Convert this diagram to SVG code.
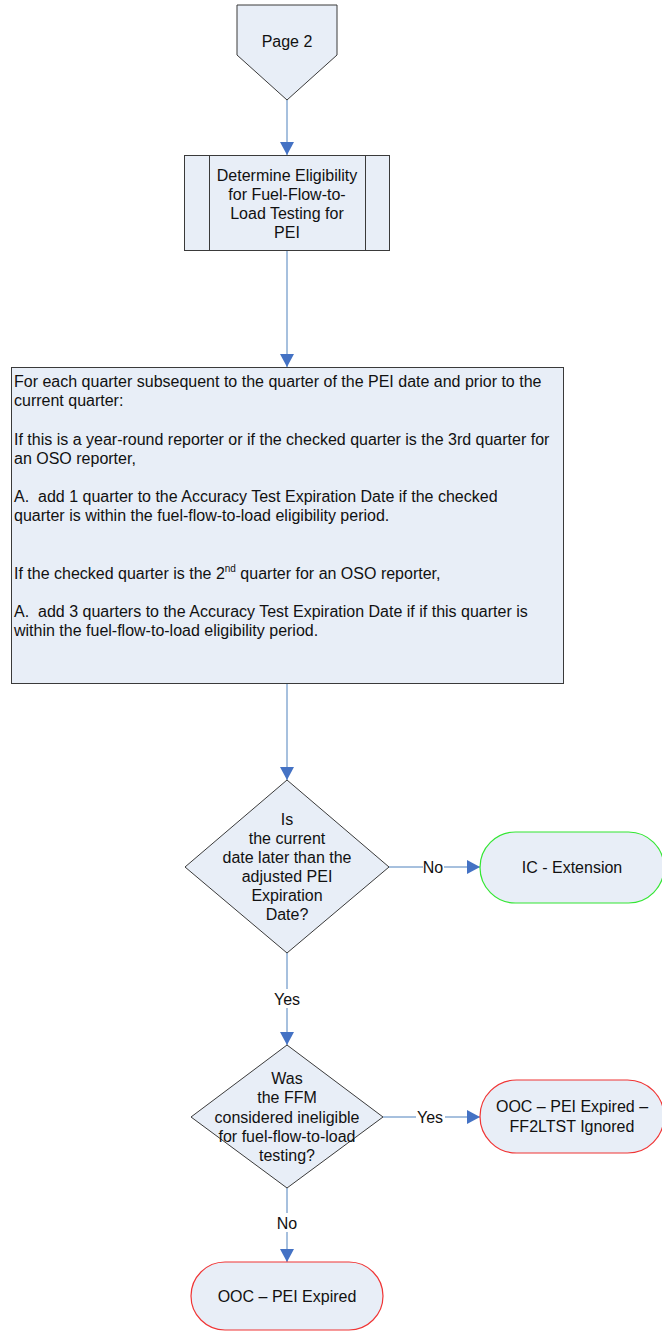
<svg xmlns="http://www.w3.org/2000/svg" width="662" height="1332" viewBox="0 0 662 1332">
<style>
  .shape { fill: #E8EEF7; stroke: #3A3A3A; stroke-width: 1; }
  .term-green { fill: #E8EEF7; stroke: #33E633; stroke-width: 1.2; }
  .term-red { fill: #E8EEF7; stroke: #F03535; stroke-width: 1.2; }
  .t { font-family: "Liberation Sans", Arial, sans-serif; font-size: 16px; fill: #111; }
  .c { text-anchor: middle; }
  .conn { stroke: #4F81BD; stroke-width: 1; fill: none; }
  .lblbg { fill: #FFFFFF; }
</style>
<defs>
  <marker id="arrow" markerUnits="userSpaceOnUse" markerWidth="14" markerHeight="14" viewBox="0 0 13 14" refX="13" refY="7" orient="auto">
    <path d="M0,0 L13,7 L0,14 z" fill="#4472C4"/>
  </marker>
</defs>

<g id="connectors">
  <line class="conn" x1="287" y1="100" x2="287" y2="155" marker-end="url(#arrow)"/>
  <line class="conn" x1="287" y1="250" x2="287" y2="367" marker-end="url(#arrow)"/>
  <line class="conn" x1="287" y1="684" x2="287" y2="780" marker-end="url(#arrow)"/>
  <line class="conn" x1="389" y1="867" x2="480" y2="867" marker-end="url(#arrow)"/>
  <rect class="lblbg" x="423" y="858" width="21" height="18"/>
  <text class="t c" x="433" y="873">No</text>
  <line class="conn" x1="287" y1="953" x2="287" y2="1045" marker-end="url(#arrow)"/>
  <rect class="lblbg" x="272" y="989" width="30" height="19"/>
  <text class="t c" x="287" y="1005">Yes</text>
  <line class="conn" x1="383" y1="1117" x2="480" y2="1117" marker-end="url(#arrow)"/>
  <rect class="lblbg" x="416" y="1108" width="29" height="18"/>
  <text class="t c" x="430" y="1123">Yes</text>
  <line class="conn" x1="287" y1="1188" x2="287" y2="1262" marker-end="url(#arrow)"/>
  <rect class="lblbg" x="276" y="1213" width="22" height="19"/>
  <text class="t c" x="287" y="1229">No</text>
</g>

<g id="page2">
  <polygon class="shape" points="237,5 337,5 337,55 287,100 237,55"/>
  <text class="t c" x="287" y="47">Page 2</text>
</g>

<g id="determine-eligibility">
  <rect class="shape" x="184.5" y="155.5" width="205" height="95"/>
  <line class="shape" x1="209.5" y1="155.5" x2="209.5" y2="250.5"/>
  <line class="shape" x1="365.5" y1="155.5" x2="365.5" y2="250.5"/>
  <text class="t c" x="287" y="180.5">Determine Eligibility</text>
  <text class="t c" x="287" y="199.5">for Fuel-Flow-to-</text>
  <text class="t c" x="287" y="219">Load Testing for</text>
  <text class="t c" x="287" y="238">PEI</text>
</g>

<g id="quarter-loop">
  <rect class="shape" x="11.5" y="367.5" width="552" height="316"/>
  <text class="t" x="14" y="387">For each quarter subsequent to the quarter of the PEI date and prior to the</text>
  <text class="t" x="14" y="406">current quarter:</text>
  <text class="t" x="14" y="445">If this is a year-round reporter or if the checked quarter is the 3rd quarter for</text>
  <text class="t" x="14" y="464">an OSO reporter,</text>
  <text class="t" x="14" y="502" xml:space="preserve">A.  add 1 quarter to the Accuracy Test Expiration Date if the checked</text>
  <text class="t" x="14" y="521">quarter is within the fuel-flow-to-load eligibility period.</text>
  <text class="t" x="14" y="579">If the checked quarter is the 2<tspan font-size="10" dy="-7">nd</tspan><tspan dy="7"> quarter for an OSO reporter,</tspan></text>
  <text class="t" x="14" y="617" xml:space="preserve">A.  add 3 quarters to the Accuracy Test Expiration Date if if this quarter is</text>
  <text class="t" x="14" y="636">within the fuel-flow-to-load eligibility period.</text>
</g>

<g id="decision-current-date">
  <polygon class="shape" points="287,780 389,867 287,953 185,867"/>
  <text class="t c" x="287" y="824.5">Is</text>
  <text class="t c" x="287" y="843.5">the current</text>
  <text class="t c" x="287" y="862.5">date later than the</text>
  <text class="t c" x="287" y="882">adjusted PEI</text>
  <text class="t c" x="287" y="901">Expiration</text>
  <text class="t c" x="287" y="920">Date?</text>
</g>

<g id="ic-extension">
  <rect class="term-green" x="480" y="832" width="184" height="71" rx="35.5" ry="35.5"/>
  <text class="t c" x="572" y="873">IC - Extension</text>
</g>

<g id="decision-ffm">
  <polygon class="shape" points="287,1045 383,1117 287,1188 191,1117"/>
  <text class="t c" x="287" y="1084">Was</text>
  <text class="t c" x="287" y="1103">the FFM</text>
  <text class="t c" x="287" y="1122.5">considered ineligible</text>
  <text class="t c" x="287" y="1141.5">for fuel-flow-to-load</text>
  <text class="t c" x="287" y="1161">testing?</text>
</g>

<g id="ooc-ff2ltst-ignored">
  <rect class="term-red" x="480" y="1080" width="184" height="73" rx="36.5" ry="36.5"/>
  <text class="t c" x="572" y="1112">OOC – PEI Expired –</text>
  <text class="t c" x="572" y="1132">FF2LTST Ignored</text>
</g>

<g id="ooc-pei-expired">
  <rect class="term-red" x="191" y="1262" width="192" height="68" rx="34" ry="34"/>
  <text class="t c" x="287" y="1302">OOC – PEI Expired</text>
</g>
</svg>
